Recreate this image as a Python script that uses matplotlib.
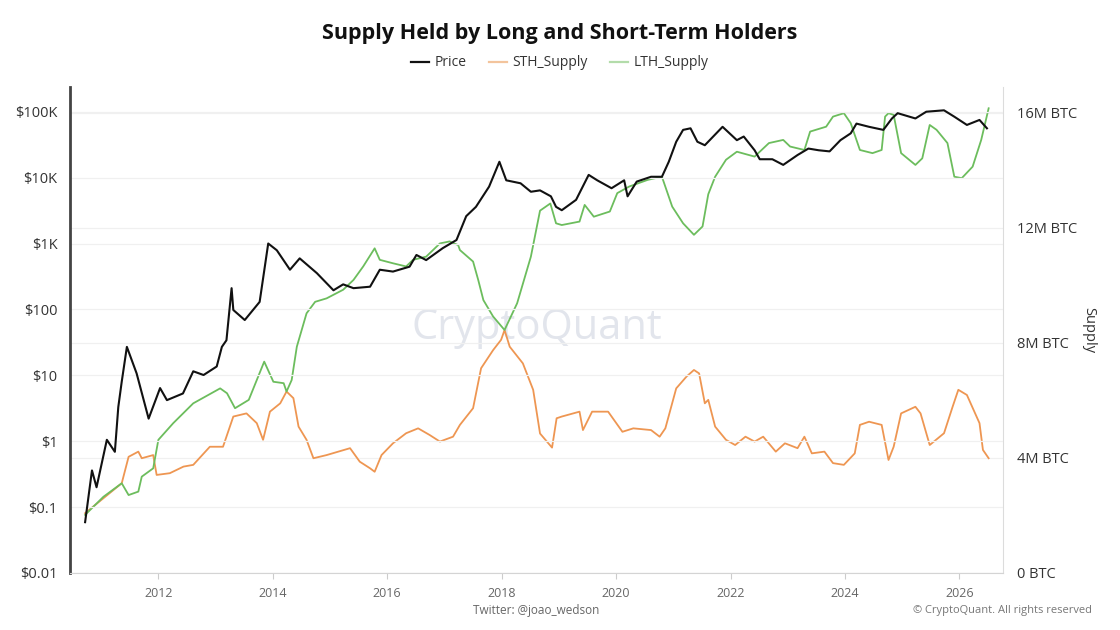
import matplotlib
matplotlib.use("Agg")
import matplotlib.pyplot as plt
from matplotlib.lines import Line2D

plt.rcParams["font.family"] = ["Open Sans", "DejaVu Sans"]

# price (USD)
price_year = [2010.72, 2010.84, 2010.92, 2011.10, 2011.24, 2011.30, 2011.36, 2011.45,
              2011.62, 2011.83, 2012.03, 2012.15, 2012.43, 2012.61, 2012.79, 2013.02,
              2013.11, 2013.19, 2013.28, 2013.31, 2013.51, 2013.77, 2013.92, 2014.07,
              2014.30, 2014.47, 2014.77, 2015.06, 2015.23, 2015.41, 2015.70, 2015.87,
              2016.10, 2016.39, 2016.51, 2016.68, 2016.97, 2017.21, 2017.38, 2017.55,
              2017.78, 2017.96, 2018.08, 2018.33, 2018.51, 2018.67, 2018.86, 2018.95,
              2019.05, 2019.30, 2019.52, 2019.67, 2019.92, 2020.14, 2020.20, 2020.36,
              2020.61, 2020.80, 2020.92, 2021.05, 2021.17, 2021.30, 2021.42, 2021.55,
              2021.86, 2022.11, 2022.23, 2022.42, 2022.51, 2022.73, 2022.92, 2023.17,
              2023.36, 2023.54, 2023.73, 2023.92, 2024.10, 2024.20, 2024.42, 2024.67,
              2024.82, 2024.92, 2025.23, 2025.42, 2025.73, 2025.91, 2026.13, 2026.35,
              2026.48]
price_usd = [0.059, 0.36, 0.2, 1.05, 0.69, 3.3, 8, 27,
             10.7, 2.2, 6.4, 4.2, 5.3, 11.5, 10.1, 13.6,
             27, 34, 210, 98, 69, 130, 1000, 790,
             400, 595, 355, 195, 240, 210, 221, 400,
             375, 445, 670, 560, 850, 1130, 2600, 3600,
             7300, 17400, 9100, 8200, 6100, 6400, 5200, 3600,
             3200, 4600, 11000, 9100, 6900, 9100, 5200, 8700,
             10300, 10300, 17400, 35000, 53000, 56000, 35000, 31000,
             59000, 37000, 42000, 26000, 19000, 19000, 15600, 22000,
             27600, 26000, 25000, 37000, 47000, 66000, 59000, 53000,
             79000, 95000, 79000, 100000, 105000, 84000, 63000, 75000,
             56000]

# short-term holder supply (million BTC)
sth_year = [2010.72, 2011.04, 2011.36, 2011.48, 2011.65, 2011.71, 2011.91, 2011.97,
            2012.20, 2012.44, 2012.61, 2012.90, 2013.13, 2013.31, 2013.54, 2013.72,
            2013.83, 2013.95, 2014.13, 2014.24, 2014.36, 2014.45, 2014.59, 2014.71,
            2014.94, 2015.35, 2015.52, 2015.70, 2015.78, 2015.90, 2016.10, 2016.33,
            2016.54, 2016.74, 2016.92, 2017.15, 2017.27, 2017.50, 2017.64, 2017.85,
            2017.99, 2018.05, 2018.14, 2018.37, 2018.55, 2018.67, 2018.88, 2018.96,
            2019.05, 2019.36, 2019.42, 2019.58, 2019.86, 2020.11, 2020.30, 2020.61,
            2020.76, 2020.86, 2021.05, 2021.23, 2021.36, 2021.45, 2021.55, 2021.61,
            2021.73, 2021.92, 2022.08, 2022.26, 2022.42, 2022.57, 2022.79, 2022.95,
            2023.17, 2023.29, 2023.42, 2023.64, 2023.79, 2023.98, 2024.17, 2024.26,
            2024.42, 2024.64, 2024.76, 2024.85, 2024.98, 2025.23, 2025.32, 2025.48,
            2025.73, 2025.88, 2025.98, 2026.13, 2026.35, 2026.41, 2026.51]
sth_supply = [2.08, 2.6, 3.12, 4.04, 4.22, 3.99, 4.1, 3.41,
              3.47, 3.7, 3.76, 4.39, 4.39, 5.44, 5.55, 5.21,
              4.63, 5.61, 5.9, 6.31, 6.08, 5.09, 4.63, 3.99,
              4.1, 4.34, 3.87, 3.64, 3.52, 4.1, 4.51, 4.86,
              5.03, 4.8, 4.57, 4.74, 5.15, 5.73, 7.12, 7.75,
              8.11, 8.45, 7.87, 7.29, 6.37, 4.85, 4.36, 5.38,
              5.44, 5.61, 4.97, 5.61, 5.61, 4.91, 5.03, 4.97,
              4.74, 5.03, 6.42, 6.83, 7.06, 6.94, 5.9, 6.02,
              5.09, 4.63, 4.45, 4.74, 4.57, 4.74, 4.22, 4.51,
              4.34, 4.74, 4.16, 4.22, 3.82, 3.76, 4.16, 5.15,
              5.26, 5.15, 3.93, 4.39, 5.55, 5.78, 5.55, 4.45,
              4.86, 5.78, 6.37, 6.19, 5.21, 4.28, 3.99]

# long-term holder supply (million BTC)
lth_year = [2010.72, 2011.04, 2011.36, 2011.48, 2011.65, 2011.71, 2011.91, 2012.00,
            2012.26, 2012.61, 2013.08, 2013.20, 2013.34, 2013.58, 2013.85, 2014.01,
            2014.19, 2014.24, 2014.33, 2014.42, 2014.59, 2014.74, 2014.94, 2015.23,
            2015.41, 2015.58, 2015.78, 2015.87, 2016.10, 2016.33, 2016.45, 2016.68,
            2016.92, 2017.09, 2017.24, 2017.27, 2017.50, 2017.59, 2017.68, 2017.85,
            2018.05, 2018.27, 2018.51, 2018.67, 2018.85, 2018.95, 2019.05, 2019.36,
            2019.45, 2019.61, 2019.89, 2020.02, 2020.23, 2020.55, 2020.80, 2020.98,
            2021.17, 2021.36, 2021.51, 2021.61, 2021.73, 2021.92, 2022.11, 2022.42,
            2022.67, 2022.92, 2023.04, 2023.29, 2023.39, 2023.67, 2023.79, 2023.98,
            2024.10, 2024.26, 2024.48, 2024.64, 2024.70, 2024.76, 2024.85, 2024.98,
            2025.23, 2025.35, 2025.48, 2025.60, 2025.79, 2025.91, 2026.04, 2026.23,
            2026.38, 2026.51]
lth_supply = [2.02, 2.65, 3.12, 2.71, 2.83, 3.35, 3.64, 4.63,
              5.21, 5.9, 6.42, 6.25, 5.73, 6.02, 7.35, 6.65,
              6.6, 6.31, 6.71, 7.87, 9.03, 9.43, 9.55, 9.85,
              10.19, 10.66, 11.29, 10.89, 10.77, 10.66, 10.89, 11.0,
              11.46, 11.53, 11.4, 11.23, 10.83, 10.19, 9.49, 8.92,
              8.45, 9.38, 11.0, 12.6, 12.85, 12.16, 12.1, 12.22,
              12.8, 12.39, 12.57, 13.21, 13.44, 13.67, 13.78, 12.74,
              12.16, 11.76, 12.05, 13.17, 13.78, 14.37, 14.65, 14.48,
              14.95, 15.06, 14.83, 14.71, 15.35, 15.52, 15.87, 15.99,
              15.64, 14.71, 14.6, 14.71, 15.87, 15.99, 15.93, 14.6,
              14.19, 14.42, 15.58, 15.41, 14.95, 13.78, 13.73, 14.13,
              15.06, 16.16]

year_ticks = [2012, 2014, 2016, 2018, 2020, 2022, 2024, 2026]
price_ticks = [0.01, 0.1, 1, 10, 100, 1000, 10000, 100000]
price_labels = ["$0.01", "$0.1", "$1", "$10", "$100", "$1K", "$10K", "$100K"]
supply_ticks = [0, 4, 8, 12, 16]
supply_labels = ["0 BTC", "4M BTC", "8M BTC", "12M BTC", "16M BTC"]

c_price, c_sth, c_lth = "#111111", "#ee9652", "#6cbd5d"

fig = plt.figure(figsize=(11.2, 6.3), dpi=100)
ax = fig.add_axes([0.0625, 0.0905, 0.833, 0.7714])
ax2 = ax.twinx()
ax.set_zorder(2)
ax.patch.set_visible(False)

# supply on the right axis
ax2.plot(sth_year, sth_supply, color=c_sth, lw=1.3, zorder=2)
ax2.plot(lth_year, lth_supply, color=c_lth, lw=1.3, zorder=3)
ax2.set_ylim(0, 16.9)
ax2.set_yticks(supply_ticks)
ax2.set_yticklabels(supply_labels)
ax2.tick_params(axis="y", length=0, pad=10, labelsize=10.5, labelcolor="#333333")
ax2.set_ylabel("Supply", rotation=270, fontsize=10.5, color="#333333", labelpad=14)
ax2.grid(axis="y", color="#f0f0f0", lw=0.9)
ax2.set_axisbelow(True)
ax2.text(0.5, 0.505, "CryptoQuant", transform=ax2.transAxes, fontsize=30,
         color="#e2e5ec", ha="center", va="center", zorder=0)

# price on the left log axis
ax.plot(price_year, price_usd, color=c_price, lw=1.5, zorder=4)
ax.set_yscale("log")
ax.set_ylim(0.01, 10 ** 5.375)
ax.set_yticks(price_ticks)
ax.set_yticklabels(price_labels)
ax.minorticks_off()
ax.tick_params(axis="y", length=0, pad=9, labelsize=10.5, labelcolor="#333333")
ax.grid(axis="y", color="#f0f0f0", lw=0.9)

ax.set_xlim(2010.456, 2026.76)
ax.set_xticks(year_ticks)
ax.set_xticklabels([str(y) for y in year_ticks])
ax.tick_params(axis="x", length=4, color="#cccccc", labelsize=9, labelcolor="#666666", pad=6)

for a in (ax, ax2):
    a.spines["top"].set_visible(False)
ax.spines["left"].set_color("#444444")
ax.spines["left"].set_linewidth(2)
ax.spines["bottom"].set_color("#d4d4d4")
ax.spines["right"].set_visible(False)
ax2.spines["left"].set_visible(False)
ax2.spines["bottom"].set_visible(False)
ax2.spines["right"].set_color("#dcdcdc")

fig.text(0.5, 0.947, "Supply Held by Long and Short-Term Holders", ha="center", va="center",
         fontsize=15.5, fontweight="bold", color="#111111")

handles = [Line2D([], [], color=c_price, lw=1.6),
           Line2D([], [], color="#f3c49c", lw=1.6),
           Line2D([], [], color="#b3dcaa", lw=1.6)]
fig.legend(handles, ["Price", "STH_Supply", "LTH_Supply"], loc="center",
           bbox_to_anchor=(0.5, 0.9), ncol=3, frameon=False, fontsize=10,
           handlelength=1.3, handletextpad=0.4, columnspacing=1.6, labelcolor="#333333")

fig.text(0.479, 0.031, "Twitter: @joao_wedson", ha="center", va="center",
         fontsize=8.5, color="#666666")
fig.text(0.975, 0.031, "\u00a9 CryptoQuant. All rights reserved", ha="right", va="center",
         fontsize=8, color="#777777")

fig.savefig("out.png", dpi=100)
